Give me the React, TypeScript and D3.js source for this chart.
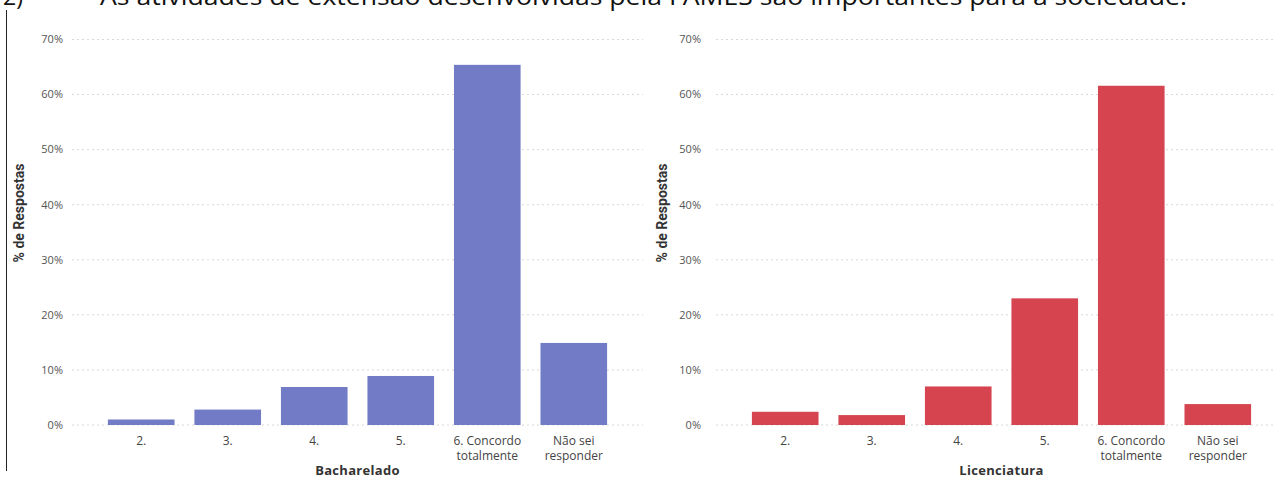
import React from "react";
import * as d3 from "d3";

const W = 1276;
const H = 479;

const categories = ["2.", "3.", "4.", "5.", "6. Concordo\ntotalmente", "Não sei\nresponder"];
const bacharelado = [1.0, 2.8, 6.9, 8.9, 65.4, 14.9];
const licenciatura = [2.4, 1.8, 7.0, 23.0, 61.6, 3.8];
const yTicks = [0, 10, 20, 30, 40, 50, 60, 70];

const titleNumber = "2)";
const titleText = "As atividades de extensão desenvolvidas pela FAMES são importantes para a sociedade.";

type PanelProps = {
  values: number[];
  color: string;
  xTitle: string;
  gridX0: number;
  gridX1: number;
  clipX1: number;
  tickX: number;
  yTitleX: number;
};

const y = d3.scaleLinear().domain([0, 70]).range([425, 39.5]);
const FONT = "'Open Sans', sans-serif";

function Panel({ values, color, xTitle, gridX0, gridX1, clipX1, tickX, yTitleX }: PanelProps) {
  const x = d3.scaleBand<string>().domain(categories).range([gridX0, gridX1]).paddingInner(0.23).paddingOuter(0.415);
  const bw = x.bandwidth();
  const midX = (x(categories[0])! + x(categories[categories.length - 1])! + bw) / 2;
  return (
    <g>
      {yTicks.map((t) => (
        <g key={t}>
          <line x1={gridX0} x2={Math.min(gridX1, clipX1)} y1={y(t)} y2={y(t)} stroke="#d8d8d8" strokeWidth={1} strokeDasharray="2 3" />
          <text x={tickX} y={y(t)} dy="0.35em" textAnchor="end" fontSize={11} fill="#555" fontFamily={FONT}>
            {t + "%"}
          </text>
        </g>
      ))}
      {values.map((v, i) => (
        <rect key={i} x={x(categories[i])} y={y(v)} width={bw} height={y(0) - y(v)} fill={color} />
      ))}
      {categories.map((c, i) => {
        const lines = c.split("\n");
        return (
          <text key={i} x={x(c)! + bw / 2} y={445} textAnchor="middle" fontSize={12} fill="#444" fontFamily={FONT}>
            {lines.map((l, j) => (
              <tspan key={j} x={x(c)! + bw / 2} dy={j === 0 ? 0 : 15}>
                {l}
              </tspan>
            ))}
          </text>
        );
      })}
      <text x={midX} y={475} textAnchor="middle" fontSize={13} fontWeight="bold" fill="#333" fontFamily={FONT} letterSpacing={0.3}>
        {xTitle}
      </text>
      <text
        transform={`translate(${yTitleX},${213}) rotate(-90)`}
        textAnchor="middle"
        fontSize={14}
        fontWeight="bold"
        fill="#333"
        fontFamily="'Liberation Sans Narrow', 'Roboto', sans-serif"
      >
        % de Respostas
      </text>
    </g>
  );
}

export default function App() {
  return (
    <svg width={W} height={H} style={{ position: "absolute", left: 0, top: 0, background: "#fff" }}>
      <rect x={0} y={0} width={W} height={H} fill="#fff" />
      <text x={3} y={5} fontSize={23} fill="#111" fontFamily={FONT}>
        {titleNumber}
      </text>
      <text x={100} y={5} fontSize={23} fill="#111" fontFamily={FONT} textLength={1087} lengthAdjust="spacingAndGlyphs">
        {titleText}
      </text>
      <line x1={6.5} x2={6.5} y1={10} y2={471} stroke="#222" strokeWidth={1} />
      <Panel values={bacharelado} color="#727bc6" xTitle="Bacharelado" gridX0={72} gridX1={643} clipX1={W} tickX={63} yTitleX={24} />
      <Panel values={licenciatura} color="#d6444f" xTitle="Licenciatura" gridX0={716} gridX1={1287} clipX1={W} tickX={701} yTitleX={667} />
    </svg>
  );
}
